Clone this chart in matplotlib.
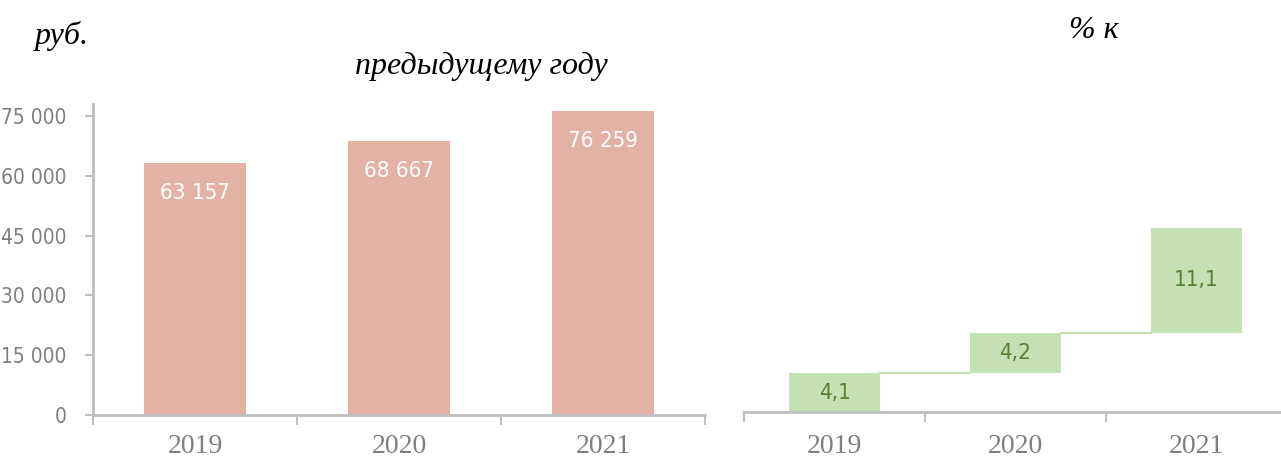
import matplotlib
matplotlib.use("Agg")
import matplotlib.pyplot as plt
import numpy as np

years = ["2019", "2020", "2021"]
wages = [63157, 68667, 76259]
wage_labels = ["63 157", "68 667", "76 259"]
growth = [4.1, 4.2, 11.1]
growth_labels = ["4,1", "4,2", "11,1"]
y_ticks = [0, 15000, 30000, 45000, 60000, 75000]
y_tick_labels = ["0", "15 000", "30 000", "45 000", "60 000", "75 000"]

W, H = 1281, 457
fig = plt.figure(figsize=(W / 100, H / 100), dpi=100)

AX_COL = "#bfbfbf"
TICK_COL = "#7f7f7f"
COND = dict(family=["DejaVu Sans"], fontstretch="condensed")
SERIF = ["Liberation Serif", "DejaVu Serif"]

# Left chart
ax1 = fig.add_axes([93 / W, (H - 415) / H, 612 / W, 311 / H])
x = np.arange(len(years))
ax1.bar(x, wages, width=0.5, color="#e3b2a4")
ax1.set_xlim(-0.5, 2.5)
ax1.set_ylim(0, 78000)
ax1.set_yticks(y_ticks)
ax1.set_yticklabels(y_tick_labels, fontsize=15, color=TICK_COL, **COND)
ax1.set_xticks([-0.5, 0.5, 1.5, 2.5])
ax1.set_xticklabels([])
ax1.set_xticks(x, minor=True)
ax1.set_xticklabels(years, minor=True, family=SERIF, fontsize=20, color=TICK_COL)
ax1.tick_params(axis="x", which="minor", length=0, pad=14)
ax1.tick_params(axis="x", which="major", length=7, width=1.5, color=AX_COL)
ax1.tick_params(axis="y", length=6, width=1.5, color=AX_COL, pad=13)
for s in ["top", "right"]:
    ax1.spines[s].set_visible(False)
for s in ["left", "bottom"]:
    ax1.spines[s].set_color(AX_COL)
    ax1.spines[s].set_linewidth(2)
for xi, v, lab in zip(x, wages, wage_labels):
    ax1.text(xi, v - 7500, lab, ha="center", va="center", color="white",
             fontsize=16, **COND)

# Right chart (waterfall)
ax2 = fig.add_axes([744 / W, (H - 412) / H, 543 / W, 300 / H])
bottoms = np.concatenate([[0], np.cumsum(growth)[:-1]])
tops = bottoms + np.array(growth)
ax2.bar(x, growth, bottom=bottoms, width=0.5, color="#c5e0b4")
for i in range(len(x) - 1):
    ax2.plot([x[i] + 0.25, x[i + 1] - 0.25], [tops[i], tops[i]],
             color="#c5e0b4", lw=1.5)
ax2.set_xlim(-0.5, 2.5)
ax2.set_ylim(0, 300 / 9.5)
ax2.set_yticks([])
ax2.set_xticks([-0.5, 0.5, 1.5, 2.5])
ax2.set_xticklabels([])
ax2.set_xticks(x, minor=True)
ax2.set_xticklabels(years, minor=True, family=SERIF, fontsize=20, color=TICK_COL)
ax2.tick_params(axis="x", which="minor", length=0, pad=16)
ax2.tick_params(axis="x", which="major", length=7, width=1.5, color=AX_COL)
for s in ["top", "right", "left"]:
    ax2.spines[s].set_visible(False)
ax2.spines["bottom"].set_color(AX_COL)
ax2.spines["bottom"].set_linewidth(2)
for xi, b, g, lab in zip(x, bottoms, growth, growth_labels):
    ax2.text(xi, b + g / 2, lab, ha="center", va="center", color="#548235",
             fontsize=16, **COND)

# Titles
fig.text(35 / W, 1 - 36 / H, "руб.", family=SERIF, style="italic",
         fontsize=23, ha="left", va="center")
fig.text(481 / W, 1 - 66 / H, "предыдущему году", family=SERIF, style="italic",
         fontsize=23, ha="center", va="center")
fig.text(1094 / W, 1 - 30 / H, "% к", family=SERIF, style="italic",
         fontsize=23, ha="center", va="center")

fig.savefig("out.png", dpi=100)
